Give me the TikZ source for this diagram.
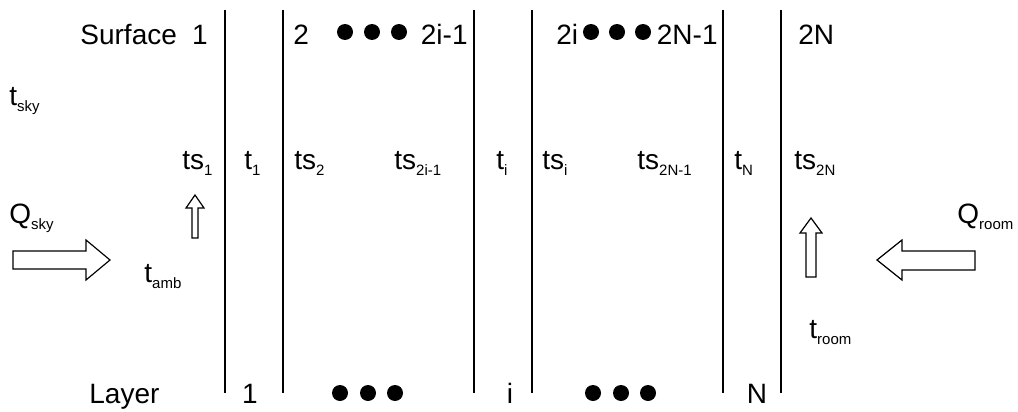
\documentclass[tikz,border=0pt]{standalone}
\usepackage{fontspec}
\setmainfont{Liberation Sans}
\usetikzlibrary{positioning}
\newcommand{\lsub}[1]{\raisebox{-3pt}{\fontsize{7.5}{7.5}\selectfont #1}}

\begin{document}
\begin{tikzpicture}[x=0.5pt,y=-0.5pt,
  lbl/.style={inner sep=0,anchor=base west,font=\fontsize{14}{16}\selectfont},
  lbr/.style={lbl,anchor=base east},
  lbc/.style={lbl,anchor=base},
  wall/.style={line width=0.9pt},
  blk/.style={line width=0.6pt,fill=white}]
\useasboundingbox (0,0) rectangle (1018,412);
% walls between the layers
\foreach \x in {225,283,474,532,723,781}
  \draw[wall] (\x,10)--(\x,393);
% surface numbers
\node[lbl] (surf) at (80,45) {Surface};
\node[lbr] (s1) at (208,45) {1};
\node[lbl] (s2) at (293,45) {2};
\node[lbr] (s2im) at (468,45) {2i-1};
\node[lbl] (s2i) at (556,45) {2i};
\node[lbr] (s2Nm) at (718,45) {2N-1};
\node[lbl] (s2N) at (798,45) {2N};
\foreach \x in {345,372,399,591,617,643}
  \fill (\x,32) circle[radius=8];
% temperatures
\node[lbl] (tsky) at (9,105) {t\lsub{sky}};
\node[lbl] (ts1) at (182,169) {ts\lsub{1}};
\node[lbl] (t1) at (244,169) {t\lsub{1}};
\node[lbl] (ts2) at (294,169) {ts\lsub{2}};
\node[lbl] (ts2im) at (394,169) {ts\lsub{2i-1}};
\node[lbl] (ti) at (496,169) {t\lsub{i}};
\node[lbl] (tsi) at (542,169) {ts\lsub{i}};
\node[lbl] (ts2Nm) at (637,169) {ts\lsub{2N-1}};
\node[lbl] (tN) at (734,169) {t\lsub{N}};
\node[lbl] (ts2N) at (794,169) {ts\lsub{2N}};
\node[lbl] (qsky) at (9,223) {Q\lsub{sky}};
\node[lbl] (tamb) at (144,282) {t\lsub{amb}};
\node[lbl] (qroom) at (957,223) {Q\lsub{room}};
\node[lbl] (troom) at (809,338) {t\lsub{room}};
% heat flow arrows
\draw[blk] (13,251)--(86,251)--(86,240)--(110,260)--(86,280)--(86,269)--(13,269)--cycle;
\draw[blk] (975,251)--(902,251)--(902,240)--(877,260)--(902,280)--(902,270)--(975,270)--cycle;
\draw[blk] (192,238)--(192,208)--(186,208)--(195,195)--(204,208)--(198,208)--(198,238)--cycle;
\draw[blk] (806,277)--(806,233)--(800,233)--(811,218)--(822,233)--(816,233)--(816,277)--cycle;
% layer numbers
\node[lbl] (layer) at (89,403) {Layer};
\node[lbc] (l1) at (250,403) {1};
\node[lbc] (li) at (510,403) {i};
\node[lbc] (lN) at (757,403) {N};
\foreach \x in {340,368,395,593,621,648}
  \fill (\x,393) circle[radius=8];
\end{tikzpicture}
\end{document}
